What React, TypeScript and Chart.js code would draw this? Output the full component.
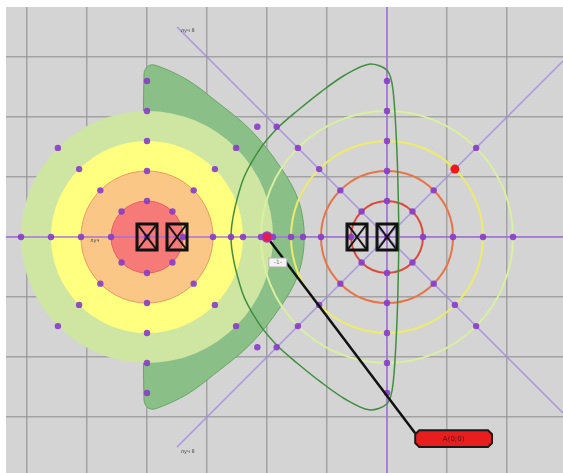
import React, { useEffect, useRef } from "react";
import { Chart, registerables } from "chart.js";

Chart.register(...registerables);

// ---- axes / grid (grid units) ----
const xRange = [-6.35, 2.933];
const yRange = [-3.933, 3.833];
const gridX = [-6, -5, -4, -3, -2, -1, 0, 1, 2];
const gridY = [-3, -2, -1, 0, 1, 2, 3];

// ---- polar construction ----
const leftCenter = [-4, 0];
const rightCenter = [0, 0];
const ringRadii = [0.6, 1.1, 1.6, 2.1];
const outerRadius = 2.6;
const rayAngles = [0, 45, 90, 135, 180, 225, 270, 315];
const leftOuterAngles = [0, 45, 90, 270, 315];
const rightOuterAngles = [90, 135, 180, 225, 270];
const highlightRadius = 1.6;
const highlightAngle = 45;

// ---- filled zones (left) and ring outlines (right) ----
const leftDiscColors = ["#f57a78", "#fbc787", "#ffff80", "#cfe6a2"];
const rightRingColors = ["#dc4a3c", "#e6764a", "#ecec6a", "#d9f0a0"];

// ---- shapes ----
const shadowX = [-4.05, -4.05, -3.98, -3.85, -3.33, -2.87, -2.27, -1.78, -1.48, -1.38, -1.48, -1.78, -2.27, -2.87, -3.33, -3.85, -3.98, -4.05, -4.05];
const shadowY = [0, 2.72, 2.85, 2.86, 2.62, 2.28, 1.78, 1.17, 0.62, 0, -0.62, -1.17, -1.78, -2.28, -2.62, -2.86, -2.85, -2.72, 0];
const loopX = [0.2, 0.17, 0.1, 0.0, -0.3, -0.7, -1.1, -1.5, -1.84, -2.15, -2.42, -2.6, -2.42, -2.15, -1.84, -1.5, -1.1, -0.7, -0.3, 0.0, 0.1, 0.17, 0.2];
const loopY = [0, 1.3, 2.45, 2.78, 2.88, 2.7, 2.42, 2.1, 1.8, 1.42, 0.9, 0, -0.9, -1.42, -1.8, -2.1, -2.42, -2.7, -2.88, -2.78, -2.45, -1.3, 0];

// ---- rays ----
const rayStartX = [-6.35, 0, -3.5, -3.5];
const rayStartY = [0, 3.833, 3.5, -3.5];
const rayEndX = [2.933, 0, 2.933, 2.933];
const rayEndY = [0, -3.933, -2.933, 2.933];

// ---- symbols & annotation ----
const boxX = [-4, -3.5, -0.5, 0];
const boxY = [0, 0, 0, 0];
const markerX = -2;
const markerY = 0;
const leaderEndX = 0.47;
const leaderEndY = -3.27;
const labelText = "A(0;0)";
const labelX0 = 0.47, labelX1 = 1.75, labelY0 = -3.22, labelY1 = -3.5;
const tagText = "-1-";
const tagX0 = -1.97, tagX1 = -1.67, tagY0 = -0.35, tagY1 = -0.5;
const rayLabels = ["луч 8", "луч 8", "луч"];
const rayLabelX = [-3.32, -3.32, -4.87];
const rayLabelY = [3.43, -3.57, -0.07];

const toRad = (a: number) => (a * Math.PI) / 180;
function ringDots(c: number[], r: number, angles: number[]) {
  return angles.map((a) => ({ x: c[0] + r * Math.cos(toRad(a)), y: c[1] + r * Math.sin(toRad(a)) }));
}

export default function App() {
  const ref = useRef<HTMLCanvasElement | null>(null);
  useEffect(() => {
    const canvas = ref.current!;
    const sym = document.createElement("canvas");
    sym.width = 24;
    sym.height = 30;
    const s = sym.getContext("2d")!;
    s.strokeStyle = "#111";
    s.lineWidth = 3;
    s.strokeRect(2, 2, 20, 26);
    s.lineWidth = 2;
    s.beginPath();
    s.moveTo(3, 3); s.lineTo(21, 27);
    s.moveTo(21, 3); s.lineTo(3, 27);
    s.stroke();

    const dots: { x: number; y: number }[] = [];
    [leftCenter, rightCenter].forEach((c) => dots.push({ x: c[0], y: c[1] }));
    ringRadii.forEach((r) => {
      dots.push(...ringDots(leftCenter, r, rayAngles));
      dots.push(
        ...ringDots(rightCenter, r, rayAngles.filter((a) => !(r === highlightRadius && a === highlightAngle)))
      );
    });
    dots.push(...ringDots(leftCenter, outerRadius, leftOuterAngles));
    dots.push(...ringDots(rightCenter, outerRadius, rightOuterAngles));

    const redDots = [...ringDots(rightCenter, highlightRadius, [highlightAngle])];

    const rays = rayStartX.map((_, i) => ({
      type: "scatter" as const,
      data: [
        { x: rayStartX[i], y: rayStartY[i] },
        { x: rayEndX[i], y: rayEndY[i] },
      ],
      showLine: true,
      borderColor: i < 2 ? "rgba(165,110,225,0.95)" : "rgba(160,140,225,0.85)",
      borderWidth: 1.5,
      pointRadius: 0,
      order: 8,
    }));

    const zonesPlugin = {
      id: "zones",
      beforeDraw(chart: any) {
        const { ctx, chartArea: a } = chart;
        ctx.save();
        ctx.fillStyle = "#ffffff";
        ctx.fillRect(0, 0, chart.width, chart.height);
        ctx.fillStyle = "#d4d4d4";
        ctx.fillRect(a.left, a.top, a.right - a.left, a.bottom - a.top);
        ctx.restore();
      },
      afterDatasetDraw(chart: any, args: any) {
        if (args.index !== 0) return;
        const { ctx, scales } = chart;
        const xs = scales.x, ys = scales.y;
        const ell = (c: number[], r: number) => {
          const px = xs.getPixelForValue(c[0]);
          const py = ys.getPixelForValue(c[1]);
          const rx = xs.getPixelForValue(c[0] + r) - px;
          const ry = py - ys.getPixelForValue(c[1] + r);
          ctx.beginPath();
          ctx.ellipse(px, py, rx, ry, 0, 0, Math.PI * 2);
        };
        ctx.save();
        for (let i = ringRadii.length - 1; i >= 0; i--) {
          ell(leftCenter, ringRadii[i]);
          ctx.fillStyle = leftDiscColors[i];
          ctx.fill();
          if (i < 2) {
            ctx.strokeStyle = i === 0 ? "#e86060" : "#ee9a60";
            ctx.lineWidth = 1;
            ctx.stroke();
          }
        }
        ringRadii.forEach((r, i) => {
          ell(rightCenter, r);
          ctx.strokeStyle = rightRingColors[i];
          ctx.lineWidth = 2;
          ctx.stroke();
        });
        ctx.restore();
      },
      afterDatasetsDraw(chart: any) {
        const { ctx, scales } = chart;
        const xs = scales.x, ys = scales.y;
        ctx.save();
        const lx0 = xs.getPixelForValue(labelX0), lx1 = xs.getPixelForValue(labelX1);
        const ly0 = ys.getPixelForValue(labelY0), ly1 = ys.getPixelForValue(labelY1);
        const k = 4;
        ctx.beginPath();
        ctx.moveTo(lx0 + k, ly0);
        ctx.lineTo(lx1 - k, ly0);
        ctx.lineTo(lx1, ly0 + k);
        ctx.lineTo(lx1, ly1 - k);
        ctx.lineTo(lx1 - k, ly1);
        ctx.lineTo(lx0 + k, ly1);
        ctx.lineTo(lx0, ly1 - k);
        ctx.lineTo(lx0, ly0 + k);
        ctx.closePath();
        ctx.fillStyle = "#e81e1e";
        ctx.fill();
        ctx.strokeStyle = "#1a1a1a";
        ctx.lineWidth = 2;
        ctx.stroke();
        ctx.fillStyle = "#5a1010";
        ctx.font = "7px 'DejaVu Sans'";
        ctx.textAlign = "center";
        ctx.textBaseline = "middle";
        ctx.fillText(labelText, (lx0 + lx1) / 2, (ly0 + ly1) / 2 + 1);
        const tx0 = xs.getPixelForValue(tagX0), tx1 = xs.getPixelForValue(tagX1);
        const ty0 = ys.getPixelForValue(tagY0), ty1 = ys.getPixelForValue(tagY1);
        ctx.fillStyle = "#f4f4f4";
        ctx.fillRect(tx0, ty0, tx1 - tx0, ty1 - ty0);
        ctx.strokeStyle = "#b0b0b0";
        ctx.lineWidth = 1;
        ctx.strokeRect(tx0, ty0, tx1 - tx0, ty1 - ty0);
        ctx.fillStyle = "#777";
        ctx.font = "6px 'DejaVu Sans'";
        ctx.fillText(tagText, (tx0 + tx1) / 2, (ty0 + ty1) / 2);
        ctx.fillStyle = "#444";
        ctx.font = "5px 'DejaVu Sans'";
        rayLabels.forEach((t, i) => {
          ctx.fillText(t, xs.getPixelForValue(rayLabelX[i]), ys.getPixelForValue(rayLabelY[i]));
        });
        ctx.restore();
      },
    };

    const gridColor = "rgba(150,150,150,0.8)";
    const chart = new Chart(canvas, {
      type: "scatter",
      data: {
        datasets: [
          {
            data: shadowX.map((x, i) => ({ x, y: shadowY[i] })),
            showLine: true,
            fill: "shape",
            backgroundColor: "#8bbf88",
            borderColor: "#68a665",
            borderWidth: 1,
            tension: 0.35,
            pointRadius: 0,
            order: 10,
          },
          ...rays,
          {
            data: loopX.map((x, i) => ({ x, y: loopY[i] })),
            showLine: true,
            fill: false,
            borderColor: "#3f8f3f",
            borderWidth: 1.5,
            tension: 0.3,
            pointRadius: 0,
            order: 6,
          },
          {
            data: dots,
            pointRadius: 3.2,
            pointBackgroundColor: "rgba(135,60,200,0.9)",
            pointBorderWidth: 0,
            order: 4,
          },
          {
            data: [
              { x: markerX, y: markerY },
              { x: leaderEndX, y: leaderEndY },
            ],
            showLine: true,
            borderColor: "#111",
            borderWidth: 2.5,
            pointRadius: 0,
            order: 3,
          },
          {
            data: [...redDots, { x: markerX, y: markerY }],
            pointRadius: [4.5, 5],
            pointBackgroundColor: ["#f01818", "#e01c50"],
            pointBorderColor: ["#f01818", "#9a3cc8"],
            pointBorderWidth: [0, 1.5],
            order: 2,
          },
          {
            data: boxX.map((x, i) => ({ x, y: boxY[i] })),
            pointStyle: sym as any,
            pointRadius: 12,
            order: 1,
          },
        ] as any,
      },
      options: {
        responsive: false,
        animation: false,
        devicePixelRatio: 1,
        layout: { autoPadding: false, padding: { left: 6, top: 7, right: 0, bottom: 0 } },
        plugins: { legend: { display: false }, tooltip: { enabled: false } },
        events: [],
        scales: {
          x: {
            type: "linear",
            min: xRange[0],
            max: xRange[1],
            ticks: { display: false },
            grid: { color: gridColor, lineWidth: 1.5, drawTicks: false },
            border: { display: false },
            afterBuildTicks: (sc: any) => {
              sc.ticks = gridX.map((v) => ({ value: v }));
            },
          },
          y: {
            type: "linear",
            min: yRange[0],
            max: yRange[1],
            ticks: { display: false },
            grid: { color: gridColor, lineWidth: 1.5, drawTicks: false },
            border: { display: false },
            afterBuildTicks: (sc: any) => {
              sc.ticks = gridY.map((v) => ({ value: v }));
            },
          },
        },
      } as any,
      plugins: [zonesPlugin],
    });
    return () => chart.destroy();
  }, []);

  return (
    <div style={{ position: "absolute", left: 0, top: 0, width: 563, height: 473 }}>
      <canvas ref={ref} width={563} height={473} style={{ display: "block" }} />
    </div>
  );
}
